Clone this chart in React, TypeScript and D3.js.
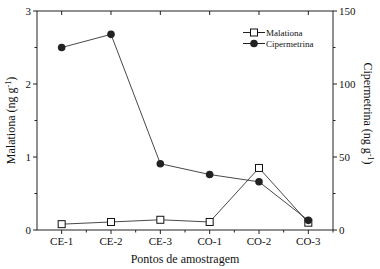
import React from "react";
import * as d3 from "d3";

const categories = ["CE-1", "CE-2", "CE-3", "CO-1", "CO-2", "CO-3"];
const malationa = [0.08, 0.11, 0.14, 0.11, 0.85, 0.1];
const cipermetrina = [125, 134, 45.4, 38, 33, 6.6];
const leftTicks = [0, 1, 2, 3];
const leftMinor = [0.5, 1.5, 2.5];
const rightTicks = [0, 50, 100, 150];
const rightMinor = [25, 75, 125];

export default function App() {
  const W = 380, H = 269;
  const L = 37, R = 333, T = 11, B = 230;
  const x = d3.scalePoint<string>().domain(categories).range([L, R]).padding(0.5);
  const yL = d3.scaleLinear().domain([0, 3]).range([B, T]);
  const yR = d3.scaleLinear().domain([0, 150]).range([B, T]);
  const step = x.step();
  const minorX = categories.map((c) => (x(c) as number) + step / 2).filter((v) => v <= R + 0.5);
  const lineM = d3.line<number>().x((_, i) => x(categories[i]) as number).y((d) => yL(d));
  const lineC = d3.line<number>().x((_, i) => x(categories[i]) as number).y((d) => yR(d));
  const font = "'Liberation Serif', 'Times New Roman', serif";
  const stroke = "#222";
  return (
    <svg width={W} height={H} style={{ position: "absolute", left: 0, top: 0, background: "#fff" }} fontFamily={font}>
      <rect x={L} y={T} width={R - L} height={B - T} fill="none" stroke={stroke} strokeWidth={1} />
      {categories.map((c) => (
        <g key={c}>
          <line x1={x(c)} x2={x(c)} y1={B} y2={B + 4} stroke={stroke} />
          <line x1={x(c)} x2={x(c)} y1={T} y2={T + 4} stroke={stroke} />
          <text x={x(c)} y={B + 15} textAnchor="middle" fontSize={11} fill="#111">{c}</text>
        </g>
      ))}
      {minorX.map((v, i) => (
        <line key={"mx" + i} x1={v} x2={v} y1={B} y2={B + 2.5} stroke={stroke} />
      ))}
      {leftTicks.map((t) => (
        <g key={"l" + t}>
          <line x1={L - 4} x2={L} y1={yL(t)} y2={yL(t)} stroke={stroke} />
          <text x={L - 6} y={yL(t) + 4} textAnchor="end" fontSize={11} fill="#111">{t}</text>
        </g>
      ))}
      {leftMinor.map((t) => (
        <line key={"lm" + t} x1={L - 2.5} x2={L} y1={yL(t)} y2={yL(t)} stroke={stroke} />
      ))}
      {rightTicks.map((t) => (
        <g key={"r" + t}>
          <line x1={R} x2={R + 4} y1={yR(t)} y2={yR(t)} stroke={stroke} />
          <text x={R + 6} y={yR(t) + 4} textAnchor="start" fontSize={11} fill="#111">{t}</text>
        </g>
      ))}
      {rightMinor.map((t) => (
        <line key={"rm" + t} x1={R} x2={R + 2.5} y1={yR(t)} y2={yR(t)} stroke={stroke} />
      ))}
      <path d={lineC(cipermetrina) as string} fill="none" stroke="#333" strokeWidth={0.9} />
      <path d={lineM(malationa) as string} fill="none" stroke="#333" strokeWidth={0.9} />
      {malationa.map((v, i) => (
        <rect key={"m" + i} x={(x(categories[i]) as number) - 3.5} y={yL(v) - 3.5} width={7} height={7} fill="#fff" stroke="#111" strokeWidth={1} />
      ))}
      {cipermetrina.map((v, i) => (
        <circle key={"c" + i} cx={x(categories[i]) as number} cy={yR(v)} r={3.8} fill="#222" />
      ))}
      <line x1={243} x2={265} y1={32.5} y2={32.5} stroke="#222" />
      <rect x={250.5} y={29} width={7} height={7} fill="#fff" stroke="#111" />
      <text x={266} y={36} fontSize={9} fill="#111">Malationa</text>
      <line x1={243} x2={265} y1={43.5} y2={43.5} stroke="#222" />
      <circle cx={254} cy={43.5} r={3.8} fill="#222" />
      <text x={266} y={47} fontSize={9} fill="#111">Cipermetrina</text>
      <text x={185} y={263} textAnchor="middle" fontSize={12} fill="#111">Pontos de amostragem</text>
      <text transform={`translate(15, ${(T + B) / 2}) rotate(-90)`} textAnchor="middle" fontSize={12} fill="#111">
        Malationa (ng g<tspan dy={-4} fontSize={8}>-1</tspan><tspan dy={4}>)</tspan>
      </text>
      <text transform={`translate(364, ${(T + B) / 2 - 7}) rotate(90)`} textAnchor="middle" fontSize={12} fill="#111">
        Cipermetrina (ng g<tspan dy={-4} fontSize={8}>-1</tspan><tspan dy={4}>)</tspan>
      </text>
    </svg>
  );
}
